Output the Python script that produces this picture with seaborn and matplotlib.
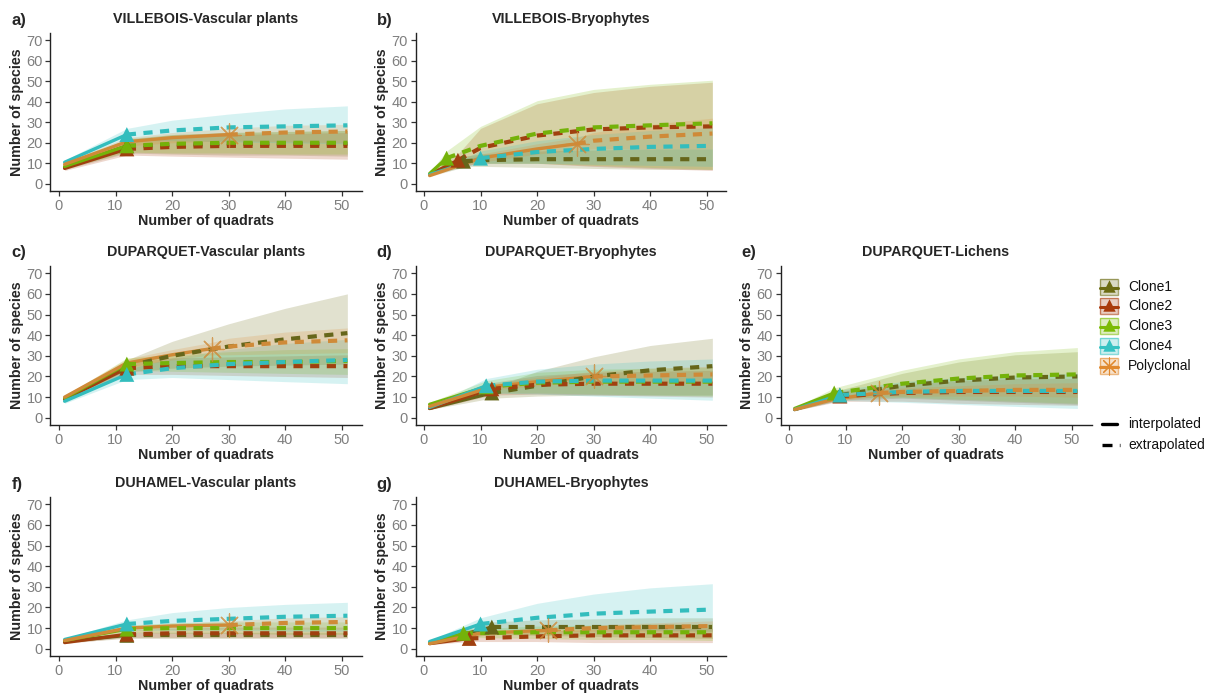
import matplotlib
matplotlib.use("Agg")
import matplotlib.pyplot as plt
from matplotlib.patches import Rectangle
import pandas as pd
import seaborn as sns

GROUPS = ["Clone1", "Clone2", "Clone3", "Clone4", "Polyclonal"]
COLORS = ["#6B6B12", "#A93A0C", "#7CBB05", "#35C2C2", "#E0892F"]

# ---------------- a) VILLEBOIS - Vascular plants
A_N = [12, 12, 12, 12, 30]
A_X = [[1, 12, 20, 30, 40, 51]] * 5
A_Y = [[8, 18.5, 19, 19.5, 19.5, 19.5],
       [7.5, 17, 18, 18.5, 18.5, 18.5],
       [8.5, 18.5, 19.5, 20, 20, 20],
       [10.5, 24, 26, 27.5, 28, 28.5],
       [9.5, 20.5, 22.5, 24, 25, 25.5]]
A_LO = [[7, 15, 14.5, 14, 14, 13.5],
        [6.5, 14, 13.5, 13, 12.5, 12],
        [7.5, 15.5, 15, 15, 14.5, 14.5],
        [9.5, 21, 21, 20.5, 20, 19.5],
        [8.5, 18.5, 20, 21, 20.5, 20]]
A_HI = [[9, 22, 24, 25, 25.5, 26],
        [8.5, 20, 23, 24, 24.5, 25],
        [9.5, 21.5, 24, 25, 25.5, 26],
        [11.5, 27, 31, 34, 36.5, 38],
        [10.5, 22.5, 25, 27, 28.5, 29]]

# ---------------- b) VILLEBOIS - Bryophytes
B_N = [7, 6, 4, 10, 27]
B_X = [[1, 7, 10, 20, 30, 40, 51],
       [1, 6, 10, 20, 30, 40, 51],
       [1, 4, 10, 20, 30, 40, 51],
       [1, 10, 20, 30, 40, 51],
       [1, 10, 20, 27, 30, 40, 51]]
B_Y = [[4.5, 11, 11.5, 12, 12, 12, 12],
       [4.5, 11.5, 17.5, 23.5, 26.5, 27.5, 28],
       [5, 12.5, 18.5, 24.5, 27.5, 28.5, 29.5],
       [4.5, 12.5, 15.5, 17, 18, 18.5],
       [4, 12.5, 17, 19.5, 21, 23, 24.5]]
B_LO = [[4, 8.5, 8.5, 8, 7.5, 7, 7],
        [4, 8.5, 10, 10, 8.5, 7.5, 6.5],
        [4.5, 10, 10, 10, 9, 8, 7],
        [4, 10, 10, 9.5, 9, 8.5],
        [3.5, 10.5, 14.5, 16.5, 17, 17, 17]]
B_HI = [[5, 13.5, 14.5, 16, 16.5, 17, 17],
        [5.5, 14.5, 27, 39, 44.5, 47.5, 49.5],
        [5.5, 16, 28, 40.5, 46, 48.5, 50.5],
        [5, 16, 21, 24, 26, 27.5],
        [4.5, 14.5, 19.5, 22.5, 25, 29, 32]]

# ---------------- c) DUPARQUET - Vascular plants
C_N = [12, 12, 12, 12, 27]
C_X = [[1, 12, 20, 30, 40, 51]] * 4 + [[1, 12, 20, 27, 30, 40, 51]]
C_Y = [[9, 25, 30, 34.5, 38, 41],
       [9, 24, 25, 25, 25, 25],
       [9.5, 26, 26.5, 27, 27, 27.5],
       [8, 21, 24, 26, 27, 28],
       [10, 26.5, 30.5, 33.5, 34.5, 36.5, 37.5]]
C_LO = [[8, 22, 24, 25, 25.5, 26],
        [8, 21, 21, 20.5, 20, 19.5],
        [8.5, 23, 22.5, 22, 21.5, 21],
        [7, 18.5, 19.5, 18.5, 17.5, 16.5],
        [9, 24.5, 28, 30.5, 30.5, 31, 31.5]]
C_HI = [[10, 28, 37, 45.5, 53, 60],
        [10, 27, 29, 29.5, 30, 30.5],
        [10.5, 29, 30.5, 32, 33, 33.5],
        [9, 23.5, 29, 33, 36, 38],
        [11, 28.5, 33, 36.5, 38.5, 41.5, 43.5]]

# ---------------- d) DUPARQUET - Bryophytes
D_N = [12, 12, 11, 11, 30]
D_X = [[1, 12, 20, 30, 40, 51],
       [1, 12, 20, 30, 40, 51],
       [1, 11, 20, 30, 40, 51],
       [1, 11, 20, 30, 40, 51],
       [1, 12, 20, 30, 40, 51]]
D_Y = [[4.5, 12, 15.5, 20, 23, 25],
       [4.5, 14, 16, 16.5, 16.5, 16.5],
       [6.5, 15, 17, 17.5, 17.5, 17.5],
       [5, 15.5, 17.5, 18, 18, 18],
       [5.5, 15, 17.5, 20, 20.5, 21]]
D_LO = [[4, 9.5, 10.5, 11, 11, 11],
        [4, 11, 11.5, 11, 10.5, 10],
        [5.5, 12, 12, 11.5, 11, 10.5],
        [4.5, 12, 11.5, 10.5, 9.5, 8.5],
        [5, 13.5, 15.5, 17.5, 17, 16.5]]
D_HI = [[5, 14.5, 22.5, 29.5, 35, 38.5],
        [5, 17, 20.5, 22, 22.5, 23],
        [7.5, 18, 22, 23.5, 24, 24.5],
        [5.5, 19, 23.5, 26, 27.5, 28.5],
        [6, 16.5, 19.5, 22.5, 24, 25]]

# ---------------- e) DUPARQUET - Lichens
E_N = [9, 9, 8, 9, 16]
E_X = [[1, 9, 20, 30, 40, 51],
       [1, 9, 20, 30, 40, 51],
       [1, 8, 20, 30, 40, 51],
       [1, 9, 20, 30, 40, 51],
       [1, 8, 16, 20, 30, 40, 51]]
E_Y = [[4, 11, 15.5, 18, 19.5, 20],
       [4, 10.5, 12, 12.5, 12.5, 12.5],
       [4.5, 12, 16.5, 19, 20.5, 21],
       [4, 11, 12.5, 13, 13, 13],
       [4, 9, 12, 12.5, 13, 13.5, 13.5]]
E_LO = [[3.5, 8.5, 9.5, 8.5, 7.5, 6.5],
        [3.5, 8, 8, 7, 6.5, 6],
        [4, 9.5, 10, 9, 8, 7],
        [3.5, 8.5, 7.5, 6.5, 5.5, 4.5],
        [3.5, 8, 10.5, 10.5, 10.5, 10.5, 10]]
E_HI = [[4.5, 13.5, 21.5, 27, 30.5, 32],
        [4.5, 13, 16, 18, 19, 19],
        [5, 14.5, 23, 28.5, 32, 34],
        [4.5, 13.5, 17.5, 19.5, 20.5, 21.5],
        [4.5, 10, 13.5, 14.5, 15.5, 16.5, 17]]

# ---------------- f) DUHAMEL - Vascular plants
F_N = [12, 12, 12, 12, 30]
F_X = [[1, 12, 20, 30, 40, 51]] * 5
F_Y = [[3.5, 6.5, 6.5, 6.5, 6.5, 6.5],
       [3, 7, 7.5, 7.5, 7.5, 7.5],
       [4, 9.5, 10, 10, 10, 10],
       [4.5, 12, 13.5, 14.5, 15.5, 16],
       [4, 10, 11, 11.5, 12.5, 13]]
F_LO = [[3, 5, 5, 5, 5, 5],
        [2.5, 5.5, 5.5, 5.5, 5.5, 5.5],
        [3.5, 8, 7.5, 7.5, 7, 7],
        [4, 9, 9, 9, 8.5, 8.5],
        [3.5, 9, 9.5, 9.5, 9.5, 9.5]]
F_HI = [[4, 8, 8, 8, 8, 8],
        [3.5, 9, 10, 10.5, 10.5, 10.5],
        [4.5, 11.5, 12.5, 13, 13, 13],
        [5, 14, 17.5, 20, 21.5, 22.5],
        [4.5, 11, 12.5, 13.5, 15, 15.5]]

# ---------------- g) DUHAMEL - Bryophytes
G_N = [12, 8, 7, 10, 22]
G_X = [[1, 12, 20, 30, 40, 51],
       [1, 8, 20, 30, 40, 51],
       [1, 7, 20, 30, 40, 51],
       [1, 10, 20, 30, 40, 51],
       [1, 10, 22, 30, 40, 51]]
G_Y = [[3, 10.5, 10.5, 10.5, 10.5, 10.5],
       [2.5, 5, 6, 6.5, 6.5, 6.5],
       [3, 7.5, 8, 8, 8, 8],
       [3.5, 12, 15, 17, 18, 19],
       [2.5, 7.5, 9, 10, 10.5, 11]]
G_LO = [[2.5, 7, 6.5, 6, 5.5, 5],
        [2, 3.5, 3.5, 3, 3, 3],
        [2.5, 5.5, 5, 4.5, 4.5, 4],
        [3, 9, 9.5, 9.5, 9, 8.5],
        [2, 6.5, 8, 8.5, 8.5, 8.5]]
G_HI = [[3.5, 13, 14, 14.5, 15, 15],
        [3, 6.5, 8.5, 9.5, 10, 10],
        [3.5, 9.5, 11, 11.5, 12, 12],
        [4, 15, 22, 26.5, 29.5, 31.5],
        [3, 8.5, 10, 11.5, 12.5, 13.5]]

PANELS = [
    ("a)", "VILLEBOIS-Vascular plants", A_N, A_X, A_Y, A_LO, A_HI, 0, 0),
    ("b)", "VILLEBOIS-Bryophytes", B_N, B_X, B_Y, B_LO, B_HI, 0, 1),
    ("c)", "DUPARQUET-Vascular plants", C_N, C_X, C_Y, C_LO, C_HI, 1, 0),
    ("d)", "DUPARQUET-Bryophytes", D_N, D_X, D_Y, D_LO, D_HI, 1, 1),
    ("e)", "DUPARQUET-Lichens", E_N, E_X, E_Y, E_LO, E_HI, 1, 2),
    ("f)", "DUHAMEL-Vascular plants", F_N, F_X, F_Y, F_LO, F_HI, 2, 0),
    ("g)", "DUHAMEL-Bryophytes", G_N, G_X, G_Y, G_LO, G_HI, 2, 1),
]

sns.set_theme(style="ticks")
plt.rcParams["font.family"] = ["Liberation Sans", "DejaVu Sans"]

W, H = 1214, 696
fig = plt.figure(figsize=(W / 100, H / 100), dpi=100)

COL_LEFT = [50.5, 415.5, 780.5]
AX_W = 311
ROW_TB = [(33, 191), (266, 425), (497, 656)]

PALETTE = dict(zip(GROUPS, COLORS))
# curve colours are a touch deeper than the band fills
LINE_PALETTE = dict(zip(GROUPS, ["#66661A", "#A0400F", "#74B20A",
                                 "#33BDBD", "#CF8A38"]))
DASH = (0, (2.2, 1.8))


def long_table(n, xs, ys, los, his):
    rows = []
    for g, ni, x, y, lo, hi in zip(GROUPS, n, xs, ys, los, his):
        for xi, yi, li, hi_ in zip(x, y, lo, hi):
            rows.append(dict(group=g, x=xi, y=yi, lo=li, hi=hi_,
                             interp=xi <= ni, extrap=xi >= ni,
                             obs=xi == ni))
    return pd.DataFrame(rows)


for tag, title, n, xs, ys, los, his, r, c in PANELS:
    top, bot = ROW_TB[r]
    left = COL_LEFT[c]
    ax = fig.add_axes([left / W, 1 - bot / H, AX_W / W, (bot - top) / H])
    df = long_table(n, xs, ys, los, his)

    # confidence bands
    for g in GROUPS:
        sub = df[df.group == g]
        ax.fill_between(sub.x, sub.lo, sub.hi, color=PALETTE[g], alpha=0.2,
                        lw=0, zorder=1)

    # rarefaction (solid) and extrapolation (dashed) curves
    sns.lineplot(data=df[df.interp], x="x", y="y", hue="group",
                 hue_order=GROUPS, palette=LINE_PALETTE, estimator=None,
                 sort=True, units="group", lw=2.4, legend=False, ax=ax,
                 zorder=3)
    sns.lineplot(data=df[df.extrap], x="x", y="y", hue="group",
                 hue_order=GROUPS, palette=LINE_PALETTE, estimator=None,
                 sort=True, units="group", lw=3.0, legend=False, ax=ax,
                 linestyle=DASH, zorder=3)

    # observed sample points
    obs = df[df.obs]
    clones = obs[obs.group != "Polyclonal"]
    sns.scatterplot(data=clones, x="x", y="y", hue="group", hue_order=GROUPS,
                    palette=LINE_PALETTE, marker="^", s=115, linewidth=0,
                    legend=False, ax=ax, zorder=4)
    poly = obs[obs.group == "Polyclonal"]
    ax.scatter(poly.x, poly.y, marker=(8, 2, 0), s=280,
               color=LINE_PALETTE["Polyclonal"], linewidths=0.9, alpha=0.8,
               zorder=4)

    ax.set_xlim(-1.5, 53.5)
    ax.set_ylim(-3.5, 73.5)
    ax.set_xticks([0, 10, 20, 30, 40, 50])
    ax.set_yticks([0, 10, 20, 30, 40, 50, 60, 70])
    ax.tick_params(labelsize=10.5, labelcolor="#7f7f7f", color="#333333",
                   length=3.5, width=0.9, pad=2)
    for s in ["top", "right"]:
        ax.spines[s].set_visible(False)
    for s in ["left", "bottom"]:
        ax.spines[s].set_color("#222222")
        ax.spines[s].set_linewidth(1.0)
    ax.set_xlabel("Number of quadrats", fontsize=10.3, fontweight="bold",
                  labelpad=1)
    ax.set_ylabel("Number of species", fontsize=10.3, fontweight="bold",
                  labelpad=2)
    ax.set_title(title, fontsize=10.3, fontweight="bold", pad=7)
    fig.text((left - 39) / W, 1 - (top - 13) / H, tag, fontsize=12,
             fontweight="bold", ha="left", va="center")

# legend drawn in figure pixel coordinates
lg = fig.add_axes([0, 0, 1, 1], zorder=10)
lg.set_xlim(0, W)
lg.set_ylim(H, 0)
lg.axis("off")
lg.patch.set_alpha(0)

key_y = [287, 306, 326, 346, 366]
for g, yk in zip(GROUPS, key_y):
    col = PALETTE[g]
    lg.add_patch(Rectangle((1100, yk - 8), 18, 16, facecolor=col, alpha=0.25,
                           edgecolor="none"))
    lg.add_patch(Rectangle((1100, yk - 8), 18, 16, facecolor="none",
                           edgecolor=col, alpha=0.6, lw=1.0))
    lg.plot([1100, 1118], [yk + 1, yk + 1], color=col, lw=2.2)
    if g == "Polyclonal":
        lg.scatter([1109], [yk], marker=(8, 2, 0), s=150, color=col,
                   linewidths=0.8)
    else:
        lg.scatter([1109], [yk - 1], marker="^", s=80, color=col,
                   linewidths=0)
    lg.text(1128, yk, g, fontsize=10, ha="left", va="center", color="#111111")

lg.plot([1102, 1117], [424, 424], color="black", lw=2.4)
lg.text(1128, 424, "interpolated", fontsize=10, ha="left", va="center",
        color="#111111")
lg.plot([1102, 1120], [445, 445], color="black", lw=2.4,
        linestyle=(0, (3, 2.2)))
lg.text(1128, 445, "extrapolated", fontsize=10, ha="left", va="center",
        color="#111111")

fig.savefig("out.png", dpi=100)
